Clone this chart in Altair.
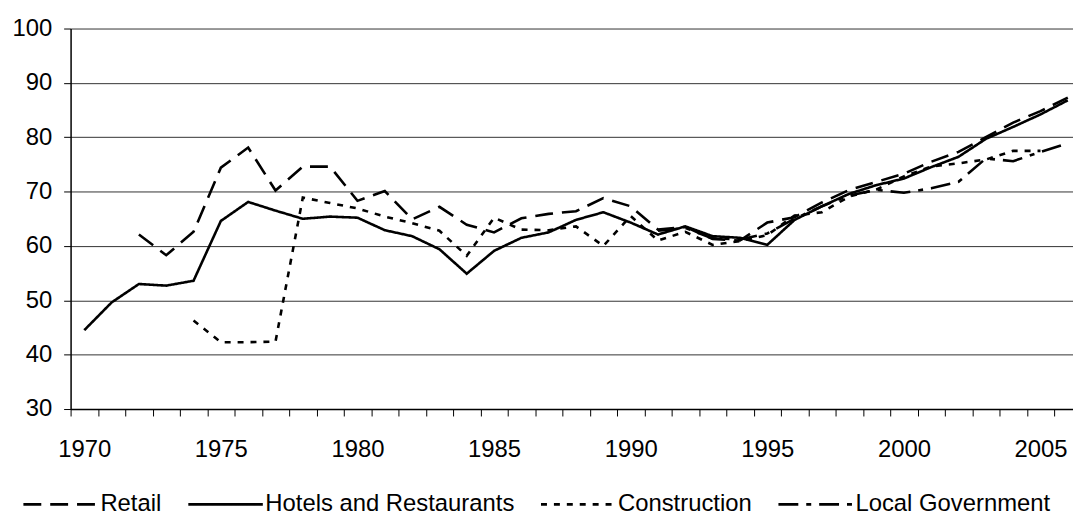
import altair as alt
import pandas as pd

# ---- data ----
hotels_years = list(range(1970, 2007))
hotels = [44.5, 49.6, 53.0, 52.7, 53.6, 64.6, 68.1, 66.5, 65.0, 65.4,
          65.2, 62.9, 61.8, 59.4, 54.9, 59.1, 61.5, 62.5, 64.8, 66.2,
          64.3, 62.1, 63.6, 61.8, 61.5, 60.2, 64.8, 67.3, 69.6, 71.2,
          72.4, 74.5, 76.4, 79.7, 81.9, 84.2, 86.8]

retail_years = list(range(1972, 2007))
retail = [62.1, 58.3, 62.6, 74.4, 78.1, 70.2, 74.6, 74.6,
          68.3, 70.1, 64.9, 67.2, 63.9, 62.5, 65.1, 65.9, 66.4, 68.8,
          67.3, 63.0, 63.5, 61.3, 61.0, 64.3, 65.3, 68.0, 70.3, 71.8,
          73.3, 75.5, 77.3, 80.0, 82.7, 84.8, 87.3]

construction_years = list(range(1974, 2006))
construction = [46.3, 42.3, 42.3, 42.4, 68.9, 67.9,
                66.9, 65.4, 64.2, 62.8, 58.2, 65.2, 63.0, 62.9, 63.6, 60.0,
                65.5, 61.0, 62.6, 60.2, 60.9, 62.0, 65.6, 66.2, 69.1, 70.4,
                72.8, 74.6, 75.2, 75.9, 77.5, 77.5]

localgov_years = list(range(1991, 2007))
localgov = [62.8, 63.3, 61.4, 61.2, 62.3, 65.0, 67.3, 69.3, 70.3,
            69.8, 70.6, 71.8, 76.1, 75.6, 77.3, 78.9]

series_names = ["Retail", "Hotels and Restaurants", "Construction", "Local Government"]
y_ticks = [30, 40, 50, 60, 70, 80, 90, 100]

# ---- build table ----
rows = []
for name, ys, vs in [("Retail", retail_years, retail),
                     ("Hotels and Restaurants", hotels_years, hotels),
                     ("Construction", construction_years, construction),
                     ("Local Government", localgov_years, localgov)]:
    for yr, v in zip(ys, vs):
        rows.append({"series": name, "year": yr, "value": v})
df = pd.DataFrame(rows)

dashes = [[18, 9], [1, 0], [6, 7], [20, 8, 5, 8]]
x_tick_vals = [1969.5 + i for i in range(37)]
FONT = "Liberation Sans"

chart = alt.Chart(df).mark_line(color="black", strokeWidth=2.6, clip=True).encode(
    x=alt.X("year:Q",
            scale=alt.Scale(domain=[1969.5, 2006.19], nice=False, zero=False),
            axis=alt.Axis(values=x_tick_vals,
                          labelExpr="(datum.value + 0.5) % 5 == 0 ? toString(datum.value + 0.5) : ''",
                          labelOffset=13.75, labelOverlap=False, labelFlush=False,
                          grid=False, title=None, tickSize=7, tickColor="black",
                          domainColor="black", domainWidth=1.5,
                          labelFontSize=24, labelFont=FONT, labelColor="black",
                          labelPadding=22)),
    y=alt.Y("value:Q",
            scale=alt.Scale(domain=[30, 100], nice=False, zero=False),
            axis=alt.Axis(values=y_ticks, grid=True, gridColor="#333333", gridWidth=1,
                          title=None, tickSize=7, tickColor="black",
                          domainColor="black", domainWidth=1.5,
                          labelFontSize=24, labelFont=FONT, labelColor="black",
                          labelPadding=12)),
    strokeDash=alt.StrokeDash("series:N",
                              scale=alt.Scale(domain=series_names, range=dashes),
                              legend=alt.Legend(title=None, orient="none",
                                                legendX=-49, legendY=440,
                                                direction="horizontal",
                                                symbolType="stroke", symbolSize=5625,
                                                symbolStrokeWidth=2.6,
                                                symbolStrokeColor="black",
                                                labelFontSize=24, labelFont=FONT,
                                                labelColor="black", labelOffset=1,
                                                columnPadding=21, padding=0,
                                                labelLimit=400)),
).properties(
    width=1009, height=383,
    padding={"left": 63, "top": 19, "right": 0, "bottom": 105},
    autosize=alt.AutoSizeParams(type="none"),
).configure_view(stroke=None)

chart.save("out.html", embed_options={"renderer": "svg", "actions": False})
